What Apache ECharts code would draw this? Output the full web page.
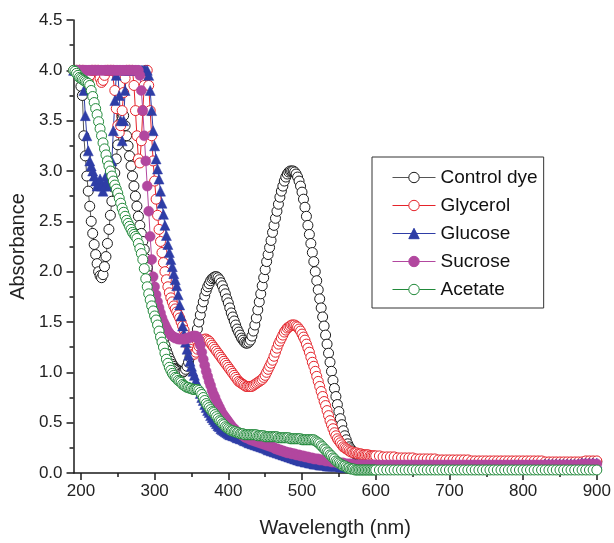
<!DOCTYPE html>
<html><head><meta charset="utf-8">
<script src="https://cdn.jsdelivr.net/npm/echarts@6/dist/echarts.min.js"></script>
<style>html,body{margin:0;padding:0;background:#fff}#c{width:614px;height:543px}</style>
</head><body><div id="c"></div>
<script>
const wavelength = [
190,192,194,196,198,200,202,204,206,208,
210,212,214,216,218,220,222,224,226,228,
230,232,234,236,238,240,242,244,246,248,
250,252,254,256,258,260,262,264,266,268,
270,272,274,276,278,280,282,284,286,288,
290,292,294,296,298,300,302,304,306,308,
310,312,314,316,318,320,322,324,326,328,
330,332,334,336,338,340,342,344,346,348,
350,352,354,356,358,360,362,364,366,368,
370,372,374,376,378,380,382,384,386,388,
390,392,394,396,398,400,402,404,406,408,
410,412,414,416,418,420,422,424,426,428,
430,432,434,436,438,440,442,444,446,448,
450,452,454,456,458,460,462,464,466,468,
470,472,474,476,478,480,482,484,486,488,
490,492,494,496,498,500,502,504,506,508,
510,512,514,516,518,520,522,524,526,528,
530,532,534,536,538,540,542,544,546,548,
550,552,554,556,558,560,562,564,566,568,
570,572,574,576,578,580,582,584,586,588,
590,592,594,596,598,600,
605,610,615,620,625,630,635,640,645,650,
655,660,665,670,675,680,685,690,695,700,
705,710,715,720,725,730,735,740,745,750,
755,760,765,770,775,780,785,790,795,800,
805,810,815,820,825,830,835,840,845,850,
855,860,865,870,875,880,885,890,895,900];

const controlDye = [
null,null,null,null,4.0,3.84,3.75,3.35,3.15,2.95,
2.8,2.65,2.5,2.38,2.27,2.17,2.08,2.0,1.96,1.94,
1.97,2.05,2.15,2.28,2.42,2.56,2.7,2.84,2.98,3.12,
3.26,3.38,3.48,3.54,3.55,3.45,3.35,3.25,3.15,3.05,
2.95,2.85,2.75,2.65,2.55,2.46,2.38,2.3,2.22,2.13,
2.04,1.96,1.88,1.8,1.73,1.66,1.6,1.54,1.48,1.42,
1.37,1.32,1.27,1.22,1.18,1.14,1.11,1.08,1.06,1.04,
1.03,1.02,1.01,1.0,1.0,1.01,1.03,1.06,1.1,1.15,
1.2,1.25,1.3,1.36,1.43,1.5,1.57,1.64,1.7,1.76,
1.81,1.85,1.88,1.91,1.93,1.94,1.95,1.95,1.94,1.92,
1.89,1.86,1.82,1.78,1.73,1.69,1.64,1.59,1.55,1.51,
1.47,1.43,1.4,1.37,1.34,1.32,1.3,1.29,1.29,1.3,
1.32,1.36,1.41,1.47,1.54,1.62,1.7,1.78,1.86,1.94,
2.02,2.1,2.17,2.24,2.31,2.39,2.46,2.53,2.6,2.67,
2.74,2.8,2.85,2.9,2.94,2.97,2.99,3.0,3.0,3.0,
2.99,2.97,2.94,2.9,2.85,2.79,2.72,2.64,2.55,2.46,
2.37,2.28,2.19,2.1,2.0,1.91,1.82,1.73,1.64,1.55,
1.46,1.37,1.28,1.19,1.1,1.01,0.92,0.84,0.76,0.68,
0.61,0.54,0.48,0.42,0.37,0.33,0.29,0.26,0.24,0.22,
0.2,0.19,0.18,0.17,0.16,0.16,0.15,0.15,0.15,0.14,
0.14,0.14,0.14,0.14,0.13,0.13,
0.13,0.13,0.13,0.13,0.12,0.12,0.12,0.12,0.12,0.12,
0.12,0.12,0.12,0.11,0.11,0.11,0.11,0.11,0.11,0.11,
0.11,0.11,0.11,0.11,0.11,0.1,0.1,0.1,0.1,0.1,
0.1,0.1,0.1,0.1,0.1,0.1,0.1,0.1,0.1,0.1,
0.1,0.1,0.1,0.1,0.1,0.1,0.1,0.1,0.1,0.1,
0.1,0.1,0.1,0.1,0.1,0.1,0.11,0.11,0.11,0.11];

const glycerol = [
4.0,4.0,4.0,4.0,4.0,4.0,4.0,4.0,3.92,3.88,
3.9,3.95,4.0,4.0,4.0,4.0,4.0,4.0,3.92,3.88,
3.9,3.95,4.0,4.0,4.0,4.0,4.0,4.0,3.8,3.62,
3.45,3.38,3.45,3.6,3.78,3.92,4.0,4.0,4.0,4.0,
4.0,3.85,3.6,3.35,3.12,3.08,3.3,3.6,3.85,4.0,
4.0,3.85,3.6,3.35,3.1,2.9,2.72,2.56,2.42,2.3,
2.19,2.09,2.0,1.92,1.85,1.79,1.74,1.7,1.66,1.63,
1.6,1.57,1.54,1.5,1.46,1.42,1.37,1.32,1.27,1.23,
1.2,1.18,1.18,1.2,1.23,1.26,1.29,1.31,1.32,1.33,
1.33,1.32,1.31,1.29,1.27,1.25,1.23,1.21,1.19,1.17,
1.15,1.13,1.11,1.09,1.07,1.05,1.03,1.01,0.99,0.97,
0.95,0.93,0.91,0.9,0.89,0.88,0.87,0.86,0.86,0.86,
0.86,0.86,0.87,0.88,0.89,0.9,0.91,0.92,0.93,0.95,
0.97,1.0,1.03,1.06,1.09,1.12,1.16,1.2,1.24,1.28,
1.31,1.34,1.37,1.4,1.42,1.44,1.45,1.46,1.47,1.47,
1.47,1.46,1.45,1.43,1.41,1.38,1.35,1.32,1.28,1.24,
1.2,1.15,1.1,1.06,1.01,0.96,0.91,0.86,0.81,0.76,
0.71,0.67,0.62,0.57,0.52,0.48,0.44,0.4,0.37,0.34,
0.32,0.3,0.28,0.26,0.25,0.24,0.23,0.22,0.21,0.21,
0.2,0.2,0.2,0.19,0.19,0.19,0.18,0.18,0.18,0.18,
0.18,0.17,0.17,0.17,0.17,0.17,
0.17,0.16,0.16,0.16,0.16,0.15,0.15,0.15,0.15,0.15,
0.14,0.14,0.14,0.14,0.14,0.14,0.13,0.13,0.13,0.13,
0.13,0.13,0.13,0.13,0.13,0.12,0.12,0.12,0.12,0.12,
0.12,0.12,0.12,0.12,0.12,0.12,0.12,0.12,0.12,0.12,
0.12,0.12,0.12,0.12,0.12,0.11,0.11,0.11,0.11,0.11,
0.11,0.11,0.11,0.11,0.11,0.11,0.12,0.12,0.12,0.12];

const glucose = [
4.0,4.0,4.0,4.0,4.0,4.0,4.0,3.8,3.55,3.35,
3.2,3.1,3.05,3.0,2.95,2.9,2.85,2.88,2.92,2.85,
2.8,2.85,2.95,2.9,2.85,2.95,3.1,3.4,3.7,3.95,
4.0,3.75,3.5,3.3,3.5,3.8,4.0,4.0,4.0,4.0,
4.0,4.0,4.0,4.0,4.0,4.0,4.0,4.0,4.0,4.0,
4.0,3.95,3.8,3.6,3.4,3.25,3.12,3.02,2.92,2.8,
2.68,2.57,2.46,2.36,2.27,2.19,2.12,2.05,1.98,1.92,
1.86,1.77,1.67,1.56,1.46,1.38,1.3,1.23,1.17,1.11,
1.06,1.01,0.97,0.92,0.88,0.83,0.79,0.75,0.72,0.68,
0.65,0.62,0.6,0.57,0.55,0.53,0.51,0.49,0.47,0.46,
0.44,0.43,0.42,0.41,0.4,0.39,0.38,0.38,0.37,0.37,
0.36,0.35,0.35,0.34,0.34,0.33,0.32,0.32,0.31,0.3,
0.3,0.29,0.29,0.28,0.28,0.27,0.27,0.26,0.26,0.25,
0.25,0.24,0.23,0.23,0.22,0.22,0.21,0.21,0.2,0.2,
0.19,0.19,0.18,0.18,0.17,0.17,0.16,0.16,0.15,0.15,
0.14,0.14,0.13,0.13,0.12,0.12,0.12,0.11,0.11,0.11,
0.1,0.1,0.1,0.09,0.09,0.09,0.09,0.08,0.08,0.08,
0.08,0.08,0.07,0.07,0.07,0.07,0.07,0.07,0.07,0.07,
0.07,0.06,0.06,0.06,0.06,0.06,0.06,0.06,0.06,0.06,
0.06,0.06,0.06,0.06,0.06,0.06,0.06,0.06,0.06,0.06,
0.06,0.06,0.06,0.06,0.06,0.06,
0.06,0.06,0.06,0.06,0.06,0.06,0.07,0.07,0.07,0.07,
0.07,0.07,0.07,0.07,0.07,0.07,0.07,0.07,0.07,0.07,
0.07,0.07,0.07,0.07,0.07,0.08,0.08,0.08,0.08,0.08,
0.08,0.08,0.08,0.08,0.08,0.08,0.08,0.08,0.08,0.08,
0.08,0.08,0.08,0.08,0.08,0.09,0.09,0.09,0.09,0.09,
0.09,0.09,0.09,0.09,0.09,0.1,0.1,0.1,0.1,0.1];

const sucrose = [
4.0,4.0,4.0,4.0,4.0,4.0,4.0,4.0,4.0,4.0,
4.0,4.0,4.0,4.0,4.0,4.0,4.0,4.0,4.0,4.0,
4.0,4.0,4.0,4.0,4.0,4.0,4.0,4.0,4.0,4.0,
4.0,4.0,4.0,4.0,4.0,4.0,4.0,4.0,4.0,4.0,
4.0,4.0,4.0,4.0,4.0,3.95,3.8,3.6,3.35,3.1,
2.85,2.6,2.35,2.12,1.95,1.85,1.77,1.7,1.64,1.59,
1.54,1.5,1.47,1.44,1.41,1.39,1.37,1.36,1.35,1.34,
1.34,1.33,1.33,1.33,1.33,1.33,1.33,1.34,1.34,1.35,
1.35,1.36,1.36,1.36,1.35,1.32,1.27,1.2,1.13,1.07,
1.01,0.96,0.91,0.87,0.82,0.78,0.75,0.71,0.68,0.65,
0.62,0.59,0.57,0.55,0.53,0.51,0.49,0.47,0.45,0.44,
0.42,0.41,0.4,0.39,0.38,0.37,0.36,0.35,0.35,0.34,
0.33,0.33,0.32,0.32,0.31,0.31,0.3,0.3,0.29,0.29,
0.28,0.28,0.27,0.27,0.26,0.26,0.25,0.24,0.24,0.23,
0.23,0.22,0.22,0.21,0.21,0.2,0.2,0.2,0.19,0.19,
0.19,0.18,0.18,0.18,0.17,0.17,0.17,0.16,0.16,0.16,
0.15,0.15,0.15,0.14,0.14,0.14,0.14,0.13,0.13,0.13,
0.13,0.12,0.12,0.12,0.12,0.11,0.11,0.11,0.11,0.1,
0.1,0.1,0.1,0.1,0.09,0.09,0.09,0.09,0.09,0.09,
0.08,0.08,0.08,0.08,0.08,0.08,0.08,0.08,0.08,0.08,
0.08,0.08,0.08,0.08,0.08,0.08,
0.08,0.08,0.08,0.08,0.08,0.08,0.08,0.08,0.08,0.08,
0.08,0.08,0.08,0.08,0.08,0.08,0.08,0.08,0.08,0.08,
0.08,0.08,0.08,0.08,0.08,0.08,0.08,0.08,0.08,0.08,
0.08,0.08,0.08,0.08,0.08,0.08,0.08,0.08,0.08,0.08,
0.08,0.08,0.08,0.08,0.08,0.08,0.08,0.08,0.08,0.08,
0.08,0.08,0.08,0.08,0.08,0.09,0.09,0.09,0.09,0.09];

const acetate = [
4.0,3.99,3.97,3.95,3.93,3.92,3.91,3.9,3.89,3.88,
3.87,3.85,3.8,3.74,3.68,3.62,3.56,3.49,3.42,3.35,
3.28,3.22,3.16,3.1,3.05,3.0,2.95,2.9,2.86,2.82,
2.78,2.73,2.68,2.63,2.59,2.55,2.51,2.48,2.45,2.42,
2.39,2.37,2.35,2.33,2.28,2.23,2.18,2.12,2.03,1.93,
1.85,1.78,1.72,1.66,1.61,1.56,1.52,1.47,1.41,1.35,
1.3,1.25,1.19,1.13,1.09,1.05,1.02,0.99,0.97,0.95,
0.94,0.92,0.91,0.9,0.88,0.87,0.86,0.85,0.85,0.84,
0.84,0.83,0.83,0.83,0.83,0.82,0.8,0.78,0.75,0.72,
0.69,0.67,0.65,0.63,0.61,0.6,0.58,0.56,0.54,0.52,
0.51,0.49,0.48,0.46,0.45,0.44,0.43,0.42,0.42,0.41,
0.41,0.4,0.4,0.39,0.39,0.39,0.38,0.38,0.38,0.38,
0.38,0.38,0.38,0.38,0.38,0.37,0.37,0.37,0.37,0.37,
0.36,0.36,0.36,0.36,0.36,0.36,0.36,0.36,0.36,0.35,
0.35,0.35,0.35,0.35,0.35,0.35,0.35,0.34,0.34,0.34,
0.34,0.34,0.34,0.34,0.34,0.33,0.33,0.33,0.33,0.33,
0.33,0.33,0.33,0.33,0.32,0.31,0.3,0.29,0.27,0.26,
0.24,0.23,0.21,0.2,0.18,0.17,0.15,0.14,0.12,0.11,
0.1,0.09,0.08,0.07,0.07,0.06,0.05,0.05,0.04,0.04,
0.04,0.03,0.03,0.03,0.03,0.03,0.03,0.03,0.03,0.03,
0.03,0.03,0.03,0.03,0.03,0.03,
0.03,0.03,0.03,0.03,0.03,0.03,0.03,0.03,0.03,0.03,
0.03,0.03,0.03,0.03,0.03,0.03,0.03,0.03,0.03,0.03,
0.03,0.03,0.03,0.03,0.03,0.03,0.03,0.03,0.03,0.03,
0.03,0.03,0.03,0.03,0.03,0.03,0.03,0.03,0.03,0.03,
0.03,0.03,0.03,0.03,0.03,0.03,0.03,0.03,0.03,0.03,
0.03,0.03,0.03,0.03,0.03,0.03,0.03,0.03,0.03,0.03];

const seriesNames = ['Control dye', 'Glycerol', 'Glucose', 'Sucrose', 'Acetate'];
const xMajorTicks = [200, 300, 400, 500, 600, 700, 800, 900];
const xMinorTicks = [250, 350, 450, 550, 650, 750, 850];
const yTickLabels = ['0.0','0.5','1.0','1.5','2.0','2.5','3.0','3.5','4.0','4.5'];

const FONT = "'Liberation Sans', Arial, Helvetica, sans-serif";
const AX = '#1a1a1a';

function pts(ys) {
  return wavelength.map((x, i) => [x, ys[i]]).filter(p => p[1] !== null);
}

function mk(name, ys, symbol, color, hollow, size) {
  return {
    name: name, type: 'line', data: pts(ys), xAxisIndex: 0,
    symbol: symbol, symbolSize: size, showSymbol: true, showAllSymbol: true,
    lineStyle: { color: name === 'Control dye' ? '#555' : color, width: 1 },
    itemStyle: hollow ? { color: '#fff', borderColor: color, borderWidth: 1 }
                      : { color: color, borderColor: color, borderWidth: 0.5 },
    emphasis: { disabled: true }, animation: false
  };
}

const chart = echarts.init(document.getElementById('c'), null, { renderer: 'canvas' });
chart.setOption({
  backgroundColor: '#fff',
  animation: false,
  textStyle: { fontFamily: FONT },
  grid: { left: 73, right: 16, top: 20, bottom: 66, containLabel: false },
  xAxis: [{
    type: 'value', min: 190, max: 900,
    axisLine: { show: true, onZero: false, lineStyle: { color: AX, width: 1.5 } },
    axisTick: { show: true, customValues: xMajorTicks, length: 7, lineStyle: { color: AX, width: 1.5 } },
    axisLabel: { customValues: xMajorTicks, fontSize: 17, margin: 10, color: '#222', fontFamily: FONT },
    splitLine: { show: false },
    name: 'Wavelength (nm)', nameLocation: 'middle', nameGap: 45,
    nameTextStyle: { fontSize: 20, color: '#222', fontFamily: FONT }
  }, {
    type: 'value', min: 190, max: 900, position: 'bottom', gridIndex: 0,
    axisLine: { show: false },
    axisTick: { show: true, customValues: xMinorTicks, length: 4, lineStyle: { color: AX, width: 1.5 } },
    axisLabel: { show: false }, splitLine: { show: false }
  }],
  yAxis: {
    type: 'value', min: 0, max: 4.5, interval: 0.5,
    axisLine: { show: true, lineStyle: { color: AX, width: 1.5 } },
    axisTick: { show: true, length: 7, lineStyle: { color: AX, width: 1.5 } },
    minorTick: { show: true, splitNumber: 2, length: 4, lineStyle: { color: AX, width: 1.5 } },
    splitLine: { show: false }, minorSplitLine: { show: false },
    axisLabel: { fontSize: 17, margin: 11, color: '#222', fontFamily: FONT,
      formatter: v => yTickLabels[Math.round(v / 0.5)] },
    name: 'Absorbance', nameLocation: 'middle', nameGap: 45,
    nameTextStyle: { fontSize: 20, color: '#222', fontFamily: FONT }
  },
  legend: {
    data: seriesNames, orient: 'vertical', left: 372, top: 157,
    padding: [11, 6, 9, 20], borderColor: '#333', borderWidth: 1,
    itemWidth: 43, itemHeight: 13, itemGap: 9, selectedMode: false,
    lineStyle: { width: 1 },
    itemStyle: { borderWidth: 1 },
    textStyle: { fontSize: 19, lineHeight: 16, color: '#111', fontFamily: FONT }
  },
  series: [
    mk(seriesNames[0], controlDye, 'circle', '#1a1a1a', true, 10),
    mk(seriesNames[1], glycerol, 'circle', '#E5232A', true, 10),
    mk(seriesNames[2], glucose, 'triangle', '#2E3DA6', false, 10),
    mk(seriesNames[3], sucrose, 'circle', '#B2479F', false, 10),
    mk(seriesNames[4], acetate, 'circle', '#21893A', true, 10)
  ]
});
</script></body></html>
